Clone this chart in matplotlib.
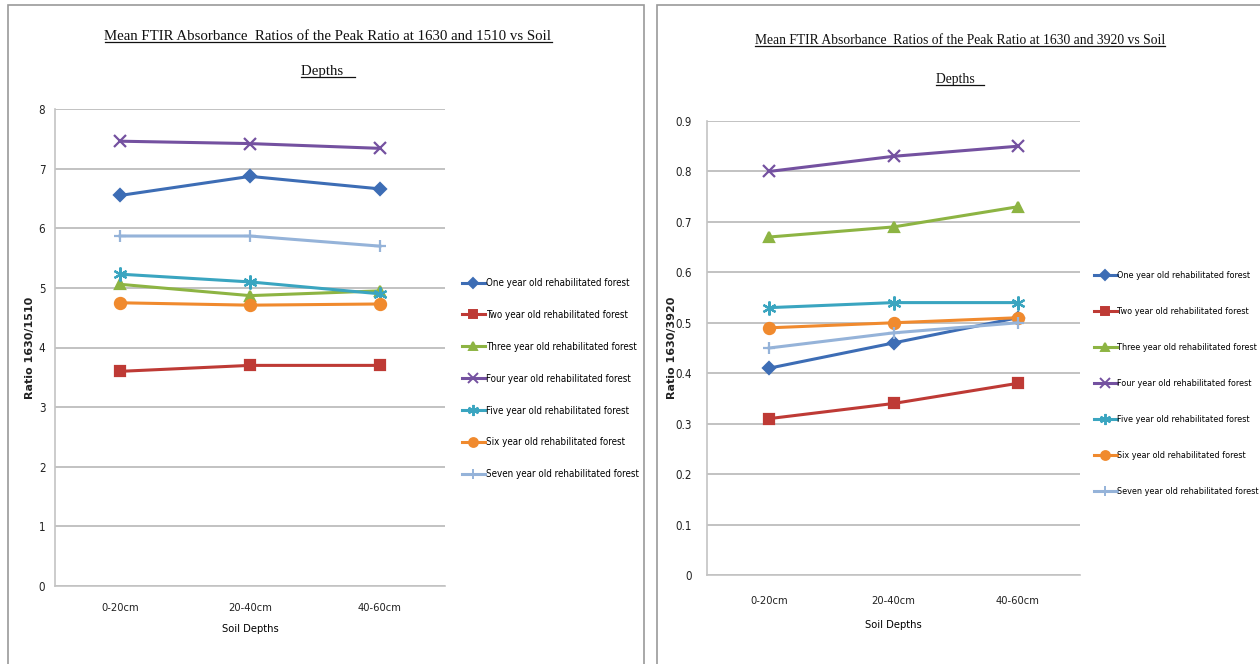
import matplotlib
matplotlib.use("Agg")
import matplotlib.pyplot as plt
from matplotlib.patches import Rectangle
from matplotlib.lines import Line2D

# narrow sans look, like the Calibri labels of the original
plt.rcParams['font.family'] = ['DejaVu Sans']
plt.rcParams['font.stretch'] = 'condensed'

depths = ["0-20cm", "20-40cm", "40-60cm"]
series_names = [
    "One year old rehabilitated forest",
    "Two year old rehabilitated forest",
    "Three year old rehabilitated forest",
    "Four year old rehabilitated forest",
    "Five year old rehabilitated forest",
    "Six year old rehabilitated forest",
    "Seven year old rehabilitated forest",
]

# ratio 1630/1510
ratio_1510 = [
    [6.55, 6.87, 6.66],
    [3.60, 3.70, 3.70],
    [5.06, 4.87, 4.95],
    [7.46, 7.42, 7.34],
    [5.23, 5.10, 4.90],
    [4.75, 4.71, 4.73],
    [5.87, 5.87, 5.70],
]

# ratio 1630/3920
ratio_3920 = [
    [0.41, 0.46, 0.51],
    [0.31, 0.34, 0.38],
    [0.67, 0.69, 0.73],
    [0.80, 0.83, 0.85],
    [0.53, 0.54, 0.54],
    [0.49, 0.50, 0.51],
    [0.45, 0.48, 0.50],
]

colors = ["#3D6DB5", "#BE3A35", "#8DB443", "#7451A0", "#3AA5C0", "#F08A2E", "#95B3D9"]
markers = ["D", "s", "^", "x", (6, 2, 0), "o", "+"]
msizes = [6, 7, 7, 9, 10, 8, 9]

W, H = 1260, 664


def px_axes(fig, left, top, right, bottom):
    return fig.add_axes([left / W, 1 - bottom / H, (right - left) / W, (bottom - top) / H])


def draw_panel(fig, ax, data, ymax, ystep, cfg):
    x = range(len(depths))
    for vals, name, c, m, ms in zip(data, series_names, colors, markers, msizes):
        ax.plot(x, vals, color=c, lw=2.2, marker=m, ms=ms, mew=1.6, mfc=c, mec=c, label=name)
    ax.set_xlim(-0.5, 2.5)
    ax.set_ylim(0, ymax)
    ticks = [round(i * ystep, 2) for i in range(int(round(ymax / ystep)) + 1)]
    ax.set_yticks(ticks)
    ax.set_yticklabels([("%g" % t) for t in ticks], fontsize=8.3)
    ax.set_xticks(list(x))
    ax.set_xticklabels(depths, fontsize=8.0)
    ax.tick_params(length=0, colors="#222222")
    ax.tick_params(axis="y", pad=cfg["ypad"])
    ax.tick_params(axis="x", pad=cfg["xpad"])
    ax.grid(axis="y", color="#b8b8b8", lw=1.2)
    ax.set_axisbelow(True)
    for s in ["top", "right"]:
        ax.spines[s].set_visible(False)
    for s in ["left", "bottom"]:
        ax.spines[s].set_color("#c4c4c4")
        ax.spines[s].set_linewidth(1.2)
    ax.set_xlabel("Soil Depths", fontsize=8.0, labelpad=cfg["xlabpad"])
    pos = ax.get_position()
    fig.text(cfg["ylabel_x"] / W, (pos.y0 + pos.y1) / 2, cfg["ylabel"], rotation=90,
             ha="center", va="center", fontsize=8.0, fontweight="bold",
             stretch="normal", color="#222222")

    t1 = fig.text(cfg["title_x"] / W, 1 - cfg["title_y"][0] / H, cfg["title"], ha="center",
                  va="center", fontsize=cfg["title_fs"], family=["Liberation Serif"],
                  stretch="normal", color="#111111")
    t2 = fig.text(cfg["title_x"] / W, 1 - cfg["title_y"][1] / H, "Depths   ", ha="center",
                  va="center", fontsize=cfg["title_fs"], family=["Liberation Serif"],
                  stretch="normal", color="#111111")

    handles = [Line2D([0], [0], color=c, lw=2.2, marker=m, ms=ms * 0.8, mfc=c, mec=c, mew=1.4)
               for c, m, ms in zip(colors, markers, msizes)]
    fig.legend(handles, series_names, loc="upper left",
               bbox_to_anchor=(cfg["leg_xy"][0] / W, 1 - cfg["leg_xy"][1] / H),
               frameon=False, fontsize=cfg["leg_fs"], handlelength=cfg["leg_hl"],
               handletextpad=0.1, labelspacing=cfg["leg_sp"], borderaxespad=0, borderpad=0)
    return [t1, t2]


fig = plt.figure(figsize=(W / 100, H / 100), dpi=100)
fig.patch.set_facecolor("white")

# panel frames
fig.patches.append(Rectangle((8 / W, -0.05), (644 - 8) / W, 1 - 5 / H + 0.05,
                             transform=fig.transFigure, fill=False, ec="#9a9a9a", lw=1.2))
fig.patches.append(Rectangle((657 / W, -0.05), (1262 - 657) / W, 1 - 5 / H + 0.05,
                             transform=fig.transFigure, fill=False, ec="#9a9a9a", lw=1.2))

ax1 = px_axes(fig, 55, 109, 445, 586)
ax2 = px_axes(fig, 707, 121, 1080, 575)

left_cfg = dict(ylabel="Ratio 1630/1510", ylabel_x=30, ypad=7, xpad=12, xlabpad=8,
                title="Mean FTIR Absorbance  Ratios of the Peak Ratio at 1630 and 1510 vs Soil",
                title_x=328, title_y=(36, 71), title_fs=10.7,
                leg_xy=(462, 278), leg_fs=7.0, leg_sp=2.25, leg_hl=2.35)
right_cfg = dict(ylabel="Ratio 1630/3920", ylabel_x=672, ypad=11, xpad=15, xlabpad=10,
                 title="Mean FTIR Absorbance  Ratios of the Peak Ratio at 1630 and 3920 vs Soil",
                 title_x=960, title_y=(40, 79), title_fs=9.8,
                 leg_xy=(1094, 271), leg_fs=6.5, leg_sp=3.0, leg_hl=2.5)

titles = []
titles += draw_panel(fig, ax1, ratio_1510, 8, 1, left_cfg)
titles += draw_panel(fig, ax2, ratio_3920, 0.9, 0.1, right_cfg)

# underline the titles
fig.canvas.draw()
r = fig.canvas.get_renderer()
for t in titles:
    bb = t.get_window_extent(r)
    y = bb.y0 + 1
    fig.add_artist(Line2D([bb.x0 / W, bb.x1 / W], [y / H, y / H], transform=fig.transFigure,
                          color="#111111", lw=0.9))

fig.savefig("out.png", dpi=100)
